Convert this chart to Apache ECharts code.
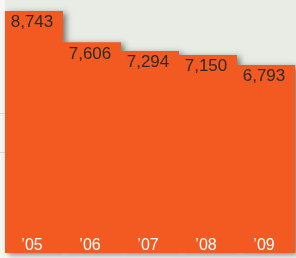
<!DOCTYPE html>
<html>
<head>
<meta charset="utf-8">
<script src="https://cdn.jsdelivr.net/npm/echarts@6/dist/echarts.min.js"></script>
<style>
html,body{margin:0;padding:0;background:#ffffff;}
#c{width:296px;height:258px;}
</style>
</head>
<body>
<div id="c"></div>
<script>
var categories = ['\u201905', '\u201906', '\u201907', '\u201908', '\u201909'];
var values = [8743, 7606, 7294, 7150, 6793];

var chart = echarts.init(document.getElementById('c'), null, {renderer: 'canvas'});
chart.setOption({
  animation: false,
  backgroundColor: '#ffffff',
  graphic: [
    {type: 'rect', left: 0, top: 0, shape: {width: 296, height: 253}, style: {fill: '#E9ECE5'}, z: -10},
    {type: 'rect', left: 0, top: 0, shape: {width: 5, height: 258}, style: {fill: '#F7F7F5'}, z: -9},
    {type: 'line', shape: {x1: 0, y1: 113.5, x2: 5, y2: 113.5}, style: {stroke: '#DCDCD8', lineWidth: 1}, z: -8},
    {type: 'line', shape: {x1: 0, y1: 152.5, x2: 5, y2: 152.5}, style: {stroke: '#DCDCD8', lineWidth: 1}, z: -8}
  ],
  grid: {left: 5, right: 1, top: 0, bottom: 5, containLabel: false},
  xAxis: {
    type: 'category',
    data: categories,
    axisLine: {show: false},
    axisTick: {show: false},
    axisLabel: {
      inside: true,
      margin: -1,
      color: '#ffffff',
      fontSize: 16,
      fontFamily: 'Liberation Sans, Arial, sans-serif',
      padding: [0, 4, 0, 0]
    },
    z: 10
  },
  yAxis: {
    type: 'value',
    min: 0,
    max: 9140,
    show: false,
    splitLine: {show: false}
  },
  series: [{
    type: 'bar',
    data: values,
    barCategoryGap: 0,
    z: 1,
    silent: true,
    itemStyle: {
      color: '#F25A22',
      shadowColor: 'rgba(0,0,0,0.5)',
      shadowBlur: 6,
      shadowOffsetX: 3,
      shadowOffsetY: 2
    }
  }, {
    type: 'bar',
    data: values,
    barCategoryGap: 0,
    barGap: '-100%',
    z: 2,
    itemStyle: {
      color: '#F25A22'
    },
    label: {
      show: true,
      position: 'insideTop',
      distance: 3,
      offset: [-2, 0],
      color: '#2b2b2b',
      fontSize: 17,
      fontFamily: 'Liberation Sans, Arial, sans-serif',
      formatter: function (p) { return p.value.toLocaleString('en-US'); }
    }
  }]
});
</script>
</body>
</html>
